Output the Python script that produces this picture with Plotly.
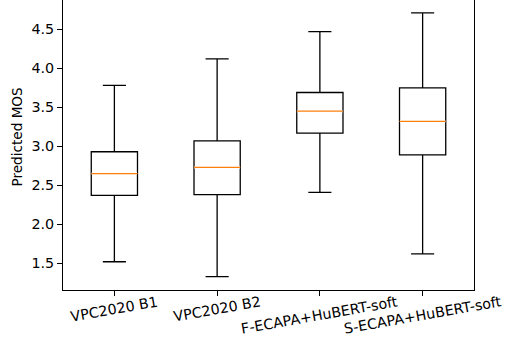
import plotly.graph_objects as go

categories = ["VPC2020 B1", "VPC2020 B2", "F-ECAPA+HuBERT-soft", "S-ECAPA+HuBERT-soft"]
positions = [1, 2, 3, 4]
lower_whisker = [1.52, 1.33, 2.41, 1.62]
q1_vals = [2.37, 2.38, 3.17, 2.89]
median_vals = [2.65, 2.73, 3.45, 3.32]
q3_vals = [2.93, 3.07, 3.69, 3.75]
upper_whisker = [3.78, 4.12, 4.47, 4.71]
y_ticks = [1.5, 2.0, 2.5, 3.0, 3.5, 4.0, 4.5]
y_label = "Predicted MOS"

BOX_W = 0.45
FONT = "DejaVu Sans"
FS = 14.3
FS_LABEL = 13.6

fig = go.Figure()
fig.add_trace(go.Box(
    x=positions, q1=q1_vals, median=median_vals, q3=q3_vals,
    lowerfence=lower_whisker, upperfence=upper_whisker,
    width=BOX_W, whiskerwidth=0.5, boxpoints=False,
    line=dict(color="black", width=1.3), fillcolor="rgba(0,0,0,0)",
    showlegend=False, hoverinfo="skip",
))
# white underlay hides the black median drawn by the box trace
wx, mx, my = [], [], []
inset = 0.005
for p, m in zip(positions, median_vals):
    wx += [p - BOX_W / 2 + inset, p + BOX_W / 2 - inset, None]
    mx += [p - BOX_W / 2, p + BOX_W / 2, None]
    my += [m, m, None]
fig.add_trace(go.Scatter(x=wx, y=my, mode="lines",
                         line=dict(color="white", width=2.6),
                         showlegend=False, hoverinfo="skip"))
fig.add_trace(go.Scatter(x=mx, y=my, mode="lines",
                         line=dict(color="#ff7f0e", width=1.3),
                         showlegend=False, hoverinfo="skip"))

for p, c in zip(positions, categories):
    fig.add_annotation(x=p, y=0, xref="x", yref="paper", text=c,
                       showarrow=False, textangle=-10, xanchor="center",
                       yanchor="top", yshift=-1,
                       font=dict(family=FONT, size=FS, color="black"))
fig.add_annotation(x=0, y=(290 - 137.5) / 290, xref="paper", yref="paper",
                   text=y_label, showarrow=False, textangle=-90,
                   xanchor="center", yanchor="middle", xshift=-47,
                   font=dict(family=FONT, size=FS_LABEL, color="black"))

fig.update_layout(
    width=505, height=338,
    margin=dict(l=63, r=31, t=0, b=48),
    paper_bgcolor="white", plot_bgcolor="white",
    font=dict(family=FONT, size=FS, color="black"),
    xaxis=dict(range=[0.5, 4.5], tickvals=positions, ticktext=[""] * 4,
               ticks="outside", ticklen=5, tickcolor="black", tickwidth=1,
               showline=True, linecolor="black", linewidth=1,
               showgrid=False, zeroline=False),
    yaxis=dict(range=[1.1577, 4.8756], tickvals=y_ticks,
               ticktext=[f"{v:.1f}" for v in y_ticks],
               ticks="outside", ticklen=5, tickcolor="black", tickwidth=1,
               showline=True, linecolor="black", linewidth=1, mirror=True,
               showgrid=False, zeroline=False),
)
fig.write_html("out.html", config={"displayModeBar": False},
               post_script="document.body.style.margin='0';document.body.style.overflow='hidden';")
